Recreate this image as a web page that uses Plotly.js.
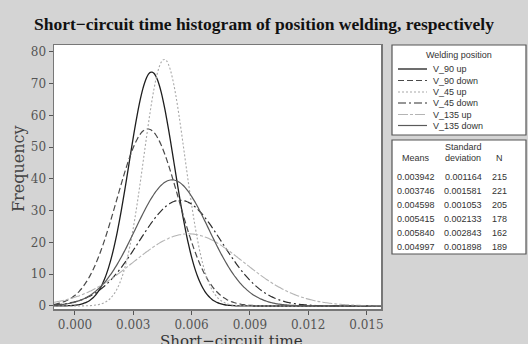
<!DOCTYPE html>
<html>
<head>
<meta charset="utf-8">
<script src="https://cdn.plot.ly/plotly-3.0.1.min.js"></script>
<style>html,body{margin:0;padding:0;background:#d4d4d4;}#chart{width:528px;height:344px;}</style>
</head>
<body>
<div id="chart"></div>
<script>
// Values (fitted normal curves per welding position)
const positions = ['V_90 up', 'V_90 down', 'V_45 up', 'V_45 down', 'V_135 up', 'V_135 down'];
const means = [0.003942, 0.003746, 0.004598, 0.005415, 0.005840, 0.004997];
const stdevs = [0.001164, 0.001581, 0.001053, 0.002133, 0.002843, 0.001898];
const counts = [215, 221, 205, 178, 162, 189];
const meanLabels = ['0.003942', '0.003746', '0.004598', '0.005415', '0.005840', '0.004997'];
const sdLabels = ['0.001164', '0.001581', '0.001053', '0.002133', '0.002843', '0.001898'];
const xTickVals = [0.000, 0.003, 0.006, 0.009, 0.012, 0.015];
const xTickText = ['0.000', '0.003', '0.006', '0.009', '0.012', '0.015'];
const yTickVals = [0, 10, 20, 30, 40, 50, 60, 70, 80];
const binWidth = 0.001; // histogram bin width the fitted curves are scaled to

// styles
const colors = ['#1e1e1e', '#4a4a4a', '#a8a8a8', '#2e2e2e', '#b4b4b4', '#5a5a5a'];
const dashes = ['solid', '6px,3px', '2px,2px', '8px,3px,2px,3px', '10px,2px,3px,2px', 'solid'];
const widths = [1.3, 1.2, 1.1, 1.2, 1.1, 1.2];

const W = 528, H = 344;
const M = {l: 54, r: 147, t: 45, b: 35};
const PW = W - M.l - M.r, PH = H - M.t - M.b;
const px = v => (v - M.l) / PW;
const py = v => (H - M.b - v) / PH;

const xr = [-0.00108, 0.01575];
const traces = positions.map((name, i) => {
  const xs = [], ys = [];
  for (let k = 0; k <= 180; k++) {
    const x = xr[0] + (xr[1] - xr[0]) * k / 180;
    xs.push(x);
    const z = (x - means[i]) / stdevs[i];
    ys.push(counts[i] * binWidth * Math.exp(-0.5 * z * z) / (stdevs[i] * Math.sqrt(2 * Math.PI)));
  }
  return {
    x: xs, y: ys, type: 'scatter', mode: 'lines', name: name, showlegend: false,
    line: {color: colors[i], dash: dashes[i], width: widths[i], shape: 'spline'},
    hoverinfo: 'skip'
  };
});

const sans = 'Liberation Sans, Arial, sans-serif';
const txt = '#333';
const shapes = [];
const annotations = [];

// legend box
shapes.push({type: 'rect', xref: 'paper', yref: 'paper', x0: px(392), x1: px(526), y0: py(45), y1: py(135),
  fillcolor: '#ffffff', line: {color: '#555', width: 1.2}, layer: 'below'});
annotations.push({xref: 'paper', yref: 'paper', x: px(459), y: py(55), text: 'Welding position', showarrow: false,
  xanchor: 'center', yanchor: 'middle', font: {family: sans, size: 9, color: txt}});
const legY = [69, 80.5, 92, 103, 114.5, 125.5];
positions.forEach((name, i) => {
  shapes.push({type: 'line', xref: 'paper', yref: 'paper', x0: px(398), x1: px(427), y0: py(legY[i]), y1: py(legY[i]),
    line: {color: colors[i], dash: dashes[i], width: widths[i]}});
  annotations.push({xref: 'paper', yref: 'paper', x: px(431), y: py(legY[i]), text: name, showarrow: false,
    xanchor: 'left', yanchor: 'middle', font: {family: sans, size: 9, color: txt}});
});

// statistics table
shapes.push({type: 'rect', xref: 'paper', yref: 'paper', x0: px(392), x1: px(526), y0: py(140), y1: py(254),
  fillcolor: '#ffffff', line: {color: '#555', width: 1.2}, layer: 'below'});
const colX = [416, 463, 499];
annotations.push({xref: 'paper', yref: 'paper', x: px(colX[1]), y: py(147), text: 'Standard', showarrow: false,
  xanchor: 'center', yanchor: 'middle', font: {family: sans, size: 9, color: txt}});
['Means', 'deviation', 'N'].forEach((t, j) => {
  annotations.push({xref: 'paper', yref: 'paper', x: px(colX[j]), y: py(158), text: t, showarrow: false,
    xanchor: 'center', yanchor: 'middle', font: {family: sans, size: 9, color: txt}});
});
const rowY = [177, 191, 205, 219, 233, 247];
positions.forEach((name, i) => {
  [meanLabels[i], sdLabels[i], String(counts[i])].forEach((t, j) => {
    annotations.push({xref: 'paper', yref: 'paper', x: px(colX[j]), y: py(rowY[i]), text: t, showarrow: false,
      xanchor: 'center', yanchor: 'middle', font: {family: sans, size: 9, color: txt}});
  });
});

// axis titles as annotations (to match their offset positions)
annotations.push({xref: 'paper', yref: 'paper', x: px(231), y: py(330), text: 'Short\u2212circuit time', showarrow: false,
  xanchor: 'center', yanchor: 'top', font: {family: 'DejaVu Serif, serif', size: 15, color: '#333'}});
annotations.push({xref: 'paper', yref: 'paper', x: px(18), y: py(169), text: 'Frequency', showarrow: false, textangle: -90,
  xanchor: 'center', yanchor: 'middle', font: {family: 'DejaVu Serif, serif', size: 16, color: '#444'}});

const layout = {
  width: W, height: H,
  margin: M,
  paper_bgcolor: '#d4d4d4',
  plot_bgcolor: '#ffffff',
  showlegend: false,
  title: {text: '<b>Short\u2212circuit time histogram of position welding, respectively</b>',
    x: 0.5, xanchor: 'center', y: 1 - 24 / H, yanchor: 'middle',
    font: {family: 'Liberation Serif, serif', size: 17.5, color: '#111'}},
  xaxis: {range: xr, tickvals: xTickVals, ticktext: xTickText, showgrid: false, zeroline: false,
    showline: true, mirror: true, linecolor: '#777', linewidth: 1.5,
    ticks: 'outside', ticklen: 4, tickcolor: '#555',
    tickfont: {family: 'DejaVu Serif, serif', size: 12, color: '#555'}},
  yaxis: {range: [-0.95, 82.2], tickvals: yTickVals, showgrid: false, zeroline: false,
    showline: true, mirror: true, linecolor: '#777', linewidth: 1.5,
    ticks: 'outside', ticklen: 4, tickcolor: '#555',
    tickfont: {family: 'DejaVu Serif, serif', size: 12, color: '#555'}},
  shapes: shapes,
  annotations: annotations
};

Plotly.newPlot('chart', traces, layout, {displayModeBar: false, staticPlot: true});
</script>
</body>
</html>
